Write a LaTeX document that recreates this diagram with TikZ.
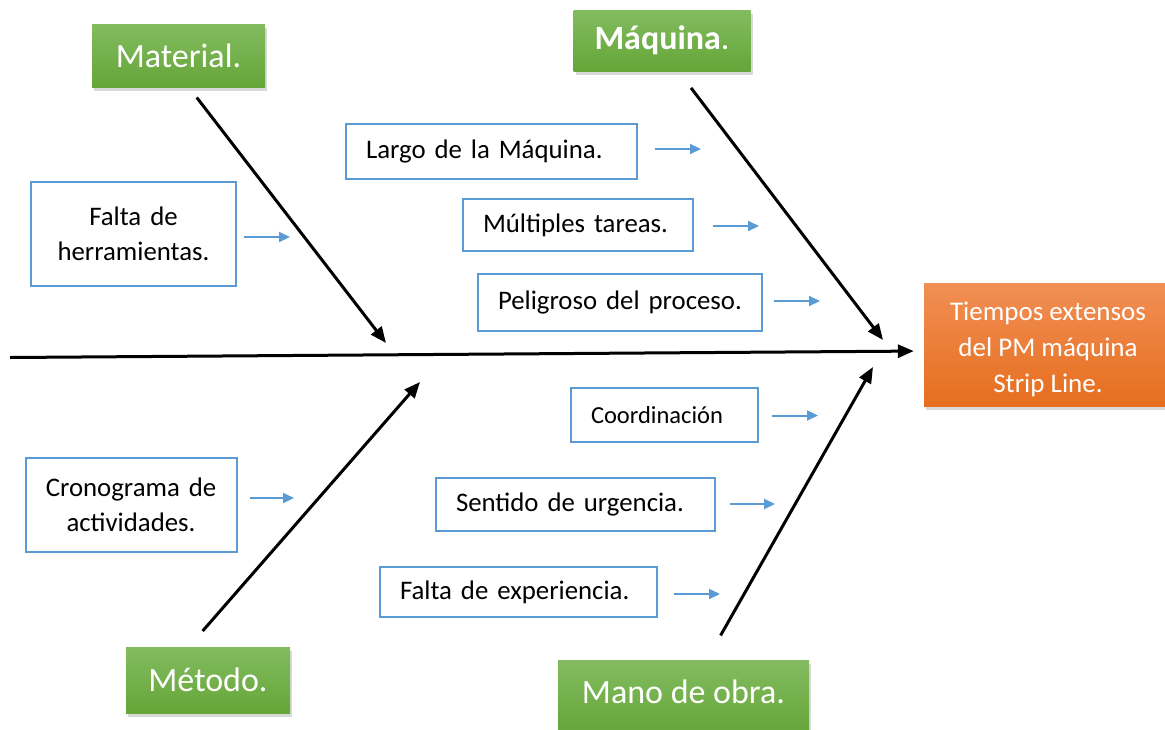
\documentclass[tikz,border=0pt]{standalone}
\usepackage{fontspec}
\setmainfont{Carlito}
\usetikzlibrary{arrows.meta,shadows}

\definecolor{boxblue}{RGB}{91,155,213}
\definecolor{greentop}{RGB}{131,188,96}
\definecolor{greenbot}{RGB}{101,165,56}
\definecolor{orangetop}{RGB}{241,143,85}
\definecolor{orangebot}{RGB}{230,110,30}

\tikzset{
  category/.style={rectangle,top color=greentop,bottom color=greenbot,text=white,inner sep=0pt,
    font=\fontsize{34}{40}\selectfont,
    drop shadow={shadow xshift=2pt,shadow yshift=-4pt,opacity=0.3}},
  effect/.style={rectangle,top color=orangetop,bottom color=orangebot,text=white,inner sep=0pt,
    align=center,font=\fontsize{27}{36}\selectfont,
    drop shadow={shadow xshift=2pt,shadow yshift=-4pt,opacity=0.3}},
  causebox/.style={rectangle,draw=boxblue,line width=2pt,fill=white,inner xsep=20pt,inner ysep=0pt,
    align=left,font=\fontsize{26.8}{35}\selectfont},
  bone/.style={line width=3pt,-{Triangle[length=16pt,width=13pt]}},
  cause/.style={draw=boxblue,line width=2pt,-{Triangle[length=11pt,width=10pt]}}
}

\begin{document}
\begin{tikzpicture}[x=1pt,y=-1pt]
  \useasboundingbox (0,0) rectangle (1165,729);
  % categories
  \node[category,minimum width=173pt,minimum height=63pt] (C_Mat) at (178.5,55.5) {Material.};
  \node[category,minimum width=177pt,minimum height=61pt] (C_Maq) at (662,40.5) {\textbf{Máquina}.};
  \node[category,minimum width=164pt,minimum height=66pt] (C_Met) at (208,680) {Método.};
  \node[category,minimum width=251pt,minimum height=74pt] (C_Man) at (683.5,697) {Mano de obra.\rule[-10pt]{0pt}{10pt}};
  % effect
  \node[effect,minimum width=248pt,minimum height=123pt] (E) at (1048,344.5) {\rule{0pt}{28pt}Tiempos extensos\\del PM máquina\\Strip Line.};
  % causes
  \node[causebox,align=center,inner xsep=10pt,text width=185pt,minimum height=104pt] (F_1) at (133.5,234) {Falta de\\herramientas.};
  \node[causebox,text width=251pt,minimum height=55pt] (F_2) at (491.5,151.5) {Largo de la Máquina.};
  \node[causebox,text width=190pt,minimum height=52pt] (F_3) at (578,225) {Múltiples tareas.};
  \node[causebox,text width=244pt,minimum height=57pt] (F_4) at (620,302) {Peligroso del proceso.};
  \node[causebox,text width=147pt,minimum height=54pt,font=\fontsize{24.5}{30}\selectfont] (F_5) at (664.5,415) {Coordinación};
  \node[causebox,text width=239pt,minimum height=53pt] (F_6) at (575.5,504.5) {Sentido de urgencia.};
  \node[causebox,text width=237pt,minimum height=50pt] (F_7) at (518.5,592) {Falta de experiencia.};
  \node[causebox,align=center,inner xsep=10pt,text width=191pt,minimum height=94pt] (F_8) at (131,505) {Cronograma de\\actividades.};
  % arrow ends
  \coordinate (S_0) at (10,357.5);
  \coordinate (J_1) at (386,343);
  \coordinate (J_2) at (883,340);
  \coordinate (J_3) at (420,382);
  \coordinate (J_4) at (873,367);
  \coordinate (T_1) at (290,237);
  \coordinate (T_2) at (701,149);
  \coordinate (T_3) at (759,226);
  \coordinate (T_4) at (820,301);
  \coordinate (T_5) at (818,415.5);
  \coordinate (T_6) at (775,504);
  \coordinate (T_7) at (720,594);
  \coordinate (T_8) at (294,498);

  \draw[bone,shorten >=10pt] (S_0) -- (E.183);
  \foreach \from/\to/\gap in {C_Mat.288/J_1/13,C_Maq.298/J_2/21,C_Met.120/J_3/21,C_Man.58/J_4/28}
    \draw[bone,shorten <=\gap pt] (\from) -- (\to);
  \foreach \from/\to/\gap in {F_1/T_1/7,F_2/T_2/17,F_3/T_3/19,F_4/T_4/11,F_5/T_5/13,F_6/T_6/14,F_7/T_7/16,F_8/T_8/12}
    \draw[cause,shorten <=\gap pt] (\from.east |- \to) -- (\to);

\end{tikzpicture}
\end{document}
